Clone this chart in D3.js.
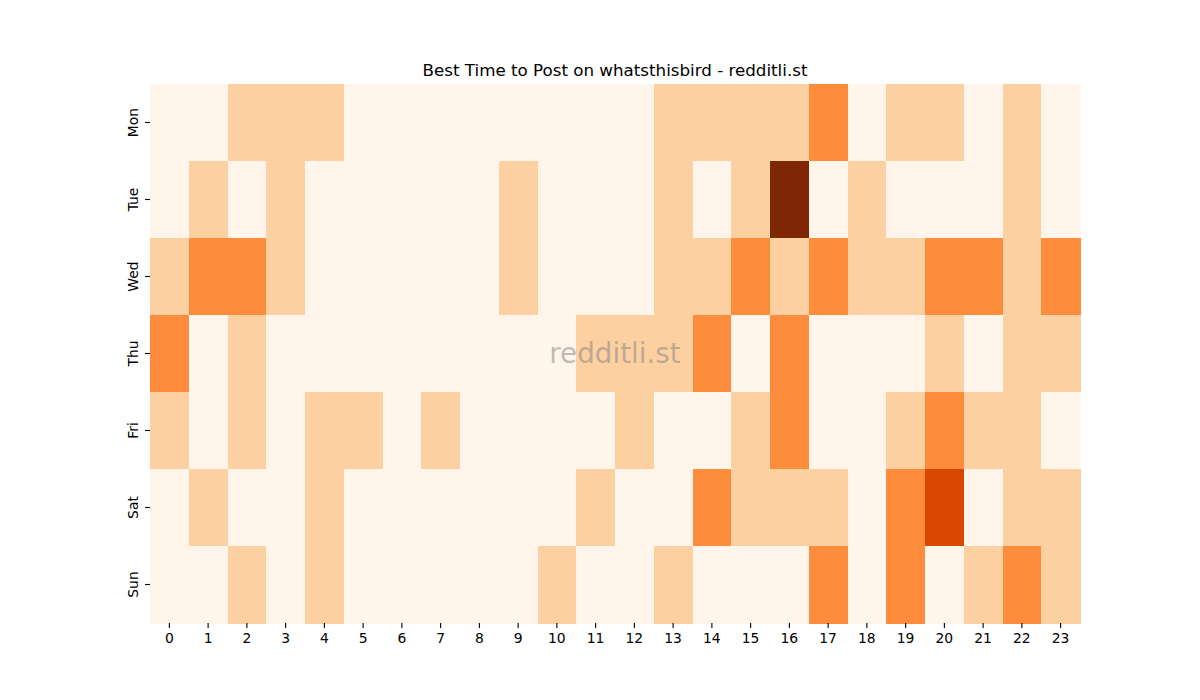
<!DOCTYPE html>
<html>
<head>
<meta charset="utf-8">
<script src="https://cdn.jsdelivr.net/npm/d3@7"></script>
<style>
  body { margin: 0; background: #fff; }
  svg { font-family: "DejaVu Sans", sans-serif; }
</style>
</head>
<body>
<svg id="chart" width="1200" height="700"></svg>
<script>
// data
var days = ["Mon", "Tue", "Wed", "Thu", "Fri", "Sat", "Sun"];
var hours = d3.range(24);
var monVals = [0,0,1,1,1,0,0,0,0,0,0,0,0,1,1,1,1,2,0,1,1,0,1,0];
var tueVals = [0,1,0,1,0,0,0,0,0,1,0,0,0,1,0,1,4,0,1,0,0,0,1,0];
var wedVals = [1,2,2,1,0,0,0,0,0,1,0,0,0,1,1,2,1,2,1,1,2,2,1,2];
var thuVals = [2,0,1,0,0,0,0,0,0,0,0,1,1,1,2,0,2,0,0,0,1,0,1,1];
var friVals = [1,0,1,0,1,1,0,1,0,0,0,0,1,0,0,1,2,0,0,1,2,1,1,0];
var satVals = [0,1,0,0,1,0,0,0,0,0,0,1,0,0,2,1,1,1,0,2,3,0,1,1];
var sunVals = [0,0,1,0,1,0,0,0,0,0,1,0,0,1,0,0,0,2,0,2,0,1,2,1];
var rows = [monVals, tueVals, wedVals, thuVals, friVals, satVals, sunVals];
var oranges = ["#fff5eb","#fee6ce","#fdd0a2","#fdae6b","#fd8d3c","#f16913","#d94801","#a63603","#7f2704"];

var svg = d3.select("#chart");
var mLeft = 150, mRight = 1080, mTop = 84, mBottom = 623;

var x = d3.scaleBand().domain(hours).range([mLeft, mRight]);
var y = d3.scaleBand().domain(days).range([mTop, mBottom]);
var vmax = d3.max(rows, function (r) { return d3.max(r); });
var color = d3.scaleLinear()
  .domain(oranges.map(function (c, i) { return vmax * i / (oranges.length - 1); }))
  .range(oranges);

var cells = [];
rows.forEach(function (r, j) {
  r.forEach(function (v, i) { cells.push({ day: days[j], hour: hours[i], v: v }); });
});

svg.append("g").selectAll("rect").data(cells).enter().append("rect")
  .attr("x", function (d) { return x(d.hour); })
  .attr("y", function (d) { return y(d.day); })
  .attr("width", x.bandwidth() + 0.5)
  .attr("height", y.bandwidth() + 0.5)
  .attr("fill", function (d) { return color(d.v); })
  .attr("shape-rendering", "crispEdges");

var xAxis = svg.append("g").attr("transform", "translate(0," + mBottom + ")")
  .call(d3.axisBottom(x).tickSize(4.9).tickPadding(4.9));
var yAxis = svg.append("g").attr("transform", "translate(" + mLeft + ",0)")
  .call(d3.axisLeft(y).tickSize(4.9).tickPadding(4.9));
[xAxis, yAxis].forEach(function (a) {
  a.select(".domain").remove();
  a.selectAll(".tick line").attr("stroke", "#000").attr("stroke-width", 1.1);
  a.selectAll(".tick text").attr("font-size", "13.9px").attr("fill", "#000")
    .attr("font-family", "DejaVu Sans");
});
yAxis.selectAll(".tick text")
  .attr("text-anchor", "middle")
  .attr("dy", 0)
  .attr("x", 0)
  .attr("y", 0)
  .attr("transform", "translate(-17,0) rotate(-90)")
  .attr("dominant-baseline", "central");

svg.append("text")
  .attr("x", (mLeft + mRight) / 2).attr("y", 76)
  .attr("text-anchor", "middle")
  .attr("font-size", "16.7px")
  .attr("fill", "#000")
  .text("Best Time to Post on whatsthisbird - redditli.st");

svg.append("text")
  .attr("x", (mLeft + mRight) / 2).attr("y", 353)
  .attr("text-anchor", "middle")
  .attr("dominant-baseline", "central")
  .attr("font-size", "27.8px")
  .attr("fill", "#808080")
  .attr("fill-opacity", 0.5)
  .text("redditli.st");
</script>
</body>
</html>
